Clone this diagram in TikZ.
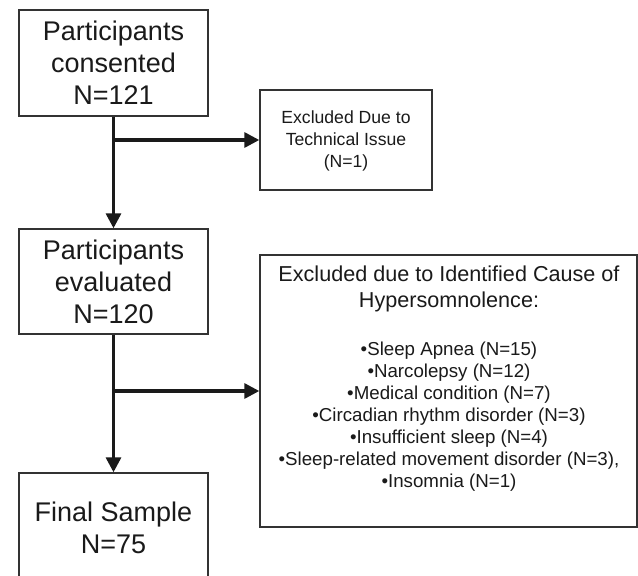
\documentclass[tikz,border=0pt]{standalone}
\usepackage{fontspec}
\setmainfont{Liberation Sans}
\usetikzlibrary{arrows.meta}
\definecolor{ink}{HTML}{1A1A1A}
\definecolor{edge}{HTML}{333333}
\tikzset{
  bigbox/.style={draw=edge, line width=1.4pt, minimum width=189pt, inner sep=0pt, text=ink, align=center, font=\fontsize{27}{32}\selectfont},
  smallbox/.style={draw=edge, line width=1.4pt, inner sep=0pt},
  smalltext/.style={text=ink, align=center, inner sep=0pt},
  flow/.style={draw=ink, line width=3.2pt, -{Triangle[length=15pt,width=15pt]}},
}
\begin{document}
\begin{tikzpicture}[x=1pt,y=-1pt]
\useasboundingbox (0,0) rectangle (638,576);
\clip (0,0) rectangle (638,576);
\fill[white] (0,0) rectangle (638,576);
% main boxes
\node[bigbox, minimum height=106pt] (cons) at (113.5,63) {Participants\\consented\\N=121};
\node[bigbox, minimum height=105pt] (eval) at (113.5,281.5) {Participants\\evaluated\\N=120};
\node[bigbox, minimum height=110pt] (final) at (113.5,528) {Final Sample\\N=75};
% side boxes
\node[smallbox, minimum width=172pt, minimum height=100pt] (tech) at (346,140) {};
\node[smalltext, font=\fontsize{17.6}{22}\selectfont] (techtext) at (346,141) {Excluded Due to\\Technical Issue\\(N=1)};
\node[smallbox, minimum width=377pt, minimum height=272pt] (cause) at (448.5,391) {};
\node[smalltext, font=\fontsize{21.6}{26}\selectfont] (causehead) at (449,289)
 {Excluded due to Identified Cause of\\Hypersomnolence:};
\node[smalltext, font=\fontsize{18.7}{22}\selectfont] (causelist) at (449,417)
 {•Sleep Apnea (N=15)\\
  •Narcolepsy (N=12)\\
  •Medical condition (N=7)\\
  •Circadian rhythm disorder (N=3)\\
  •Insufficient sleep (N=4)\\
  •Sleep-related movement disorder (N=3),\\
  •Insomnia (N=1)};
% connectors
\coordinate (j1) at (cons.south |- tech.west);
\coordinate (j2) at (eval.south |- cause.west);
\draw[flow] (cons.south) -- (eval.north);
\draw[flow] (j1) -- (tech.west);
\draw[flow] (eval.south) -- (final.north);
\draw[flow] (j2) -- (cause.west);
\end{tikzpicture}
\end{document}
